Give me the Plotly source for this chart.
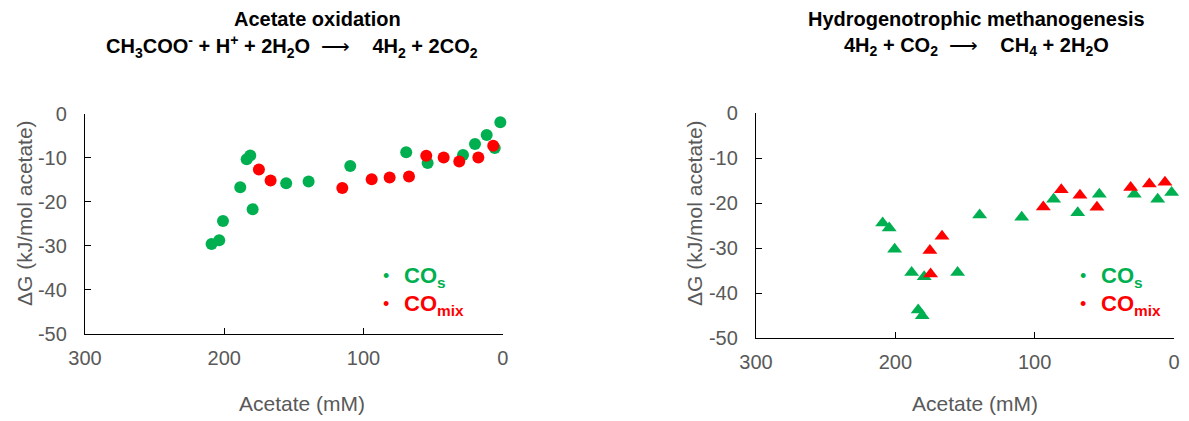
import plotly.graph_objects as go

# ---------------- data ----------------
# Acetate oxidation panel
ox_cos_acetate = [209.1, 203.6, 200.9, 188.5, 183.9, 181.3, 179.6, 155.5, 139.4, 109.5, 69.3, 53.9, 28.5, 19.9, 11.5, 5.7, 1.7]
ox_cos_dg = [-29.6, -28.75, -24.4, -16.7, -10.4, -9.5, -21.7, -15.8, -15.4, -11.9, -8.8, -11.2, -9.4, -6.9, -4.9, -7.8, -2.0]
ox_comix_acetate = [175.1, 166.7, 115.2, 94.1, 81.2, 67.3, 54.9, 42.4, 31.2, 17.5, 6.8]
ox_comix_dg = [-12.7, -15.2, -16.9, -14.9, -14.5, -14.3, -9.6, -10.0, -10.9, -10.0, -7.3]

# Hydrogenotrophic methanogenesis panel
me_cos_acetate = [209.1, 204.4, 200.5, 188.3, 179.3, 183.6, 180.7, 155.3, 139.5, 109.3, 86.4, 69.1, 53.6, 28.5, 11.7, 1.7]
me_cos_dg = [-24.4, -25.5, -30.2, -35.4, -36.3, -43.7, -45.0, -35.4, -22.6, -23.1, -19.1, -22.1, -18.0, -18.0, -19.1, -17.6]
me_comix_acetate = [175.2, 166.5, 174.7, 93.8, 80.9, 67.5, 55.3, 31.1, 17.7, 6.5]
me_comix_dg = [-30.5, -27.3, -35.7, -20.8, -17.0, -18.2, -20.9, -16.5, -15.7, -15.3]

x_ticks = [300, 200, 100, 0]
x_tick_labels = ["300", "200", "100", "0"]
y_ticks = [0, -10, -20, -30, -40, -50]
y_tick_labels = ["0", "-10", "-20", "-30", "-40", "-50"]

GREEN = "#00B050"
RED = "#FF0000"
GREY = "#595959"
FONT = "Liberation Sans, Arial, sans-serif"

fig = go.Figure()

def add(x, y, color, symbol, size, xa, ya, name):
    fig.add_trace(go.Scatter(
        x=x, y=y, mode="markers", name=name, xaxis=xa, yaxis=ya,
        marker=dict(color=color, symbol=symbol, size=size, line=dict(width=0)),
        cliponaxis=False, showlegend=False))

add(ox_cos_acetate, ox_cos_dg, GREEN, "circle", 12, "x", "y", "COs")
add(ox_comix_acetate, ox_comix_dg, RED, "circle", 12, "x", "y", "COmix")
add(me_cos_acetate, me_cos_dg, GREEN, "triangle-up", 13, "x2", "y2", "COs")
add(me_comix_acetate, me_comix_dg, RED, "triangle-up", 13, "x2", "y2", "COmix")

def xaxis(domain, anchor):
    return dict(domain=domain, anchor=anchor, range=[300, 0], tickvals=x_ticks,
                ticktext=x_tick_labels, automargin=False,
                showline=True, linecolor="black", linewidth=1.3, ticks="inside",
                ticklen=6, tickcolor="black", tickwidth=1.3, showgrid=False, zeroline=False,
                tickfont=dict(family=FONT, size=20, color=GREY), ticklabelstandoff=6)

def yaxis(domain, anchor):
    return dict(domain=domain, anchor=anchor, range=[-50, 0], tickvals=y_ticks,
                ticktext=y_tick_labels, automargin=False,
                showline=True, linecolor="black", linewidth=1.3, ticks="inside",
                ticklen=6, tickcolor="black", tickwidth=1.3, showgrid=False, zeroline=False,
                tickfont=dict(family=FONT, size=20, color=GREY), ticklabelstandoff=13)

W, H = 1189, 421
def px(x):
    return x / W
def py(y):
    return 1 - y / H

ann = []
def text(x, y, t, size, color="black", xanchor="center", yanchor="middle", angle=0):
    ann.append(dict(x=px(x), y=py(y), xref="paper", yref="paper", text=t, showarrow=False,
                    xanchor=xanchor, yanchor=yanchor, textangle=angle,
                    font=dict(family=FONT, size=size, color=color)))

NB = "\u00a0"
ARROW = "</b>" + "⟶" + "<b>"
# titles
text(318, 19, "<b>Acetate oxidation</b>", 20)
text(292, 46, "<b>CH<sub>3</sub>COO<sup>-</sup> + H<sup>+</sup> + 2H<sub>2</sub>O" + NB*2 + ARROW + NB*4 + "4H<sub>2</sub> + 2CO<sub>2</sub></b>", 20)
text(976, 19, "<b>Hydrogenotrophic methanogenesis</b>", 20)
text(976, 46, "<b>4H<sub>2</sub> + CO<sub>2</sub>" + NB*2 + ARROW + NB*4 + "CH<sub>4</sub> + 2H<sub>2</sub>O</b>", 20)

# axis titles
text(302, 403, "Acetate (mM)", 21, GREY)
text(975, 403, "Acetate (mM)", 21, GREY)
text(24, 213, "ΔG (kJ/mol acetate)", 21, GREY, angle=-90)
text(694, 213, "ΔG (kJ/mol acetate)", 21, GREY, angle=-90)

# legends
for lx in (386, 1083):
    text(lx, 276, "•", 18, GREEN)
    text(lx, 304, "•", 18, RED)
    text(lx + 16, 277, "<b>CO<sub>s</sub></b>", 22, GREEN, xanchor="left")
    text(lx + 16, 305, "<b>CO<sub>mix</sub></b>", 22, RED, xanchor="left")

fig.update_layout(
    width=W, height=H,
    margin=dict(l=0, r=0, t=0, b=0, autoexpand=False),
    paper_bgcolor="white", plot_bgcolor="white",
    xaxis=xaxis([85 / W, 502.7 / W], "y"),
    yaxis=yaxis([1 - 334 / H, 1 - 113.5 / H], "x"),
    xaxis2=xaxis([756 / W, 1174 / W], "y2"),
    yaxis2=yaxis([1 - 338.3 / H, 1 - 113.3 / H], "x2"),
    annotations=ann,
    showlegend=False,
)

fig.write_html("out.html",
               config={"displayModeBar": False},
               post_script="document.body.style.margin='0';document.body.style.padding='0';document.body.style.overflow='hidden';")
